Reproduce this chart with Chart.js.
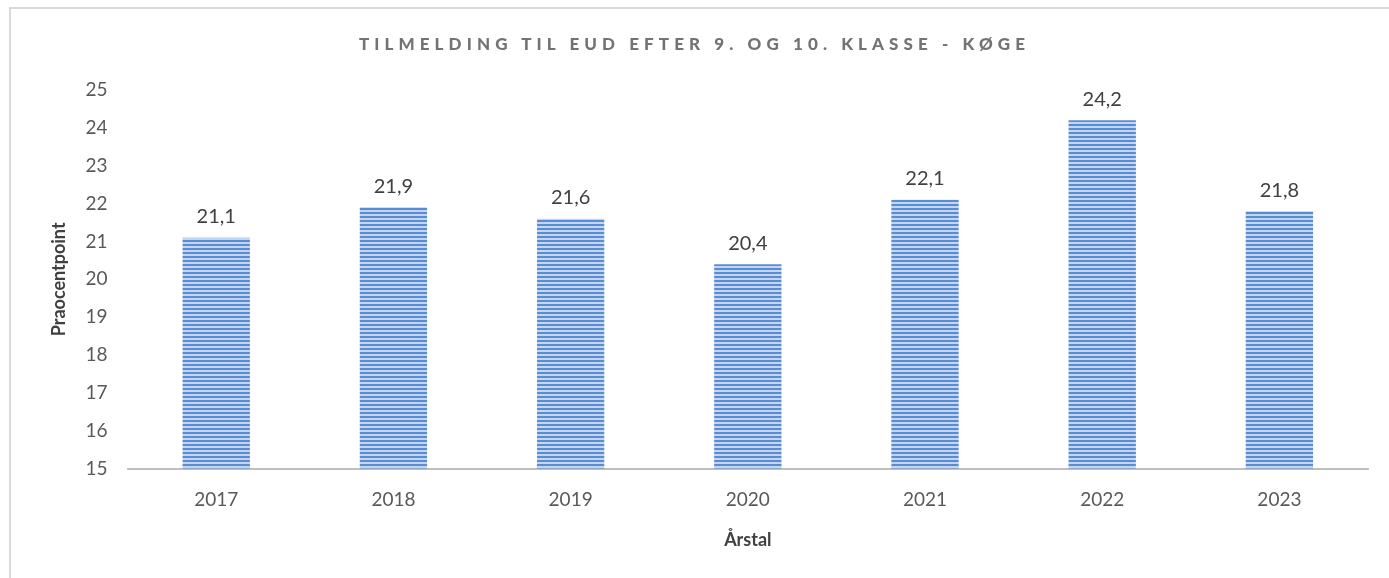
<!DOCTYPE html>
<html>
<head>
<meta charset="utf-8">
<script src="https://cdn.jsdelivr.net/npm/chart.js@4.4.1/dist/chart.umd.min.js"></script>
<style>
  html, body { margin: 0; padding: 0; background: #fff; overflow: hidden; }
  #frame { position: absolute; left: 9px; top: 7px; width: 1500px; height: 700px; border: 2px solid #d9d9d9; }
  #title { position: absolute; left: 0; width: 1389px; top: 33px; text-align: center;
           font: 900 17px Lato, sans-serif; letter-spacing: 5.1px; color: #737373; }
  #wrap { position: absolute; left: 0; top: 0; width: 1389px; height: 578px; }
</style>
</head>
<body>
<div id="frame"></div>
<div id="wrap"><canvas id="chart"></canvas></div>
<div id="title">TILMELDING TIL EUD EFTER 9. OG 10. KLASSE - KØGE</div>
<script>
const years = ['2017', '2018', '2019', '2020', '2021', '2022', '2023'];
const values = [21.1, 21.9, 21.6, 20.4, 22.1, 24.2, 21.8];
const yTitle = 'Praocentpoint';
const xTitle = 'Årstal';

function stripePattern() {
  const c = document.createElement('canvas');
  c.width = 4; c.height = 4;
  const g = c.getContext('2d');
  g.fillStyle = '#c3d5f0';
  g.fillRect(0, 0, 4, 4);
  g.fillStyle = '#5a8cd2';
  g.fillRect(0, 0, 4, 2);
  return g.createPattern(c, 'repeat');
}

const valueLabels = {
  id: 'valueLabels',
  afterDatasetsDraw(chart) {
    const ctx = chart.ctx;
    const meta = chart.getDatasetMeta(0);
    ctx.save();
    ctx.font = '20px Lato, sans-serif';
    ctx.fillStyle = '#404040';
    ctx.textAlign = 'center';
    ctx.textBaseline = 'bottom';
    meta.data.forEach((bar, i) => {
      ctx.fillText(values[i].toFixed(1).replace('.', ','), bar.x, bar.y - 11);
    });
    ctx.restore();
  }
};

const ctx = document.getElementById('chart').getContext('2d');
new Chart(ctx, {
  type: 'bar',
  data: {
    labels: years,
    datasets: [{
      data: values,
      backgroundColor: stripePattern(),
      borderWidth: 0,
      categoryPercentage: 1,
      barPercentage: 0.38
    }]
  },
  options: {
    responsive: true,
    maintainAspectRatio: false,
    animation: false,
    layout: { padding: { left: 40, right: 21, top: 90, bottom: 23 } },
    plugins: { legend: { display: false }, tooltip: { enabled: false } },
    scales: {
      y: {
        min: 15, max: 25,
        ticks: { stepSize: 1, color: '#595959', font: { family: 'Lato', size: 19 }, padding: 20 },
        grid: { display: false, drawTicks: false },
        border: { display: false },
        title: { display: true, text: yTitle, color: '#404040', font: { family: 'Lato', size: 18, weight: 'bold' }, padding: { top: 8, bottom: -4 } }
      },
      x: {
        ticks: { color: '#595959', font: { family: 'Lato', size: 19 }, padding: 20 },
        grid: { display: false, drawTicks: false },
        border: { display: true, color: '#bfbfbf', width: 2 },
        title: { display: true, text: xTitle, color: '#404040', font: { family: 'Lato', size: 18, weight: 'bold' }, padding: { top: -2 } }
      }
    }
  },
  plugins: [valueLabels]
});
</script>
</body>
</html>
